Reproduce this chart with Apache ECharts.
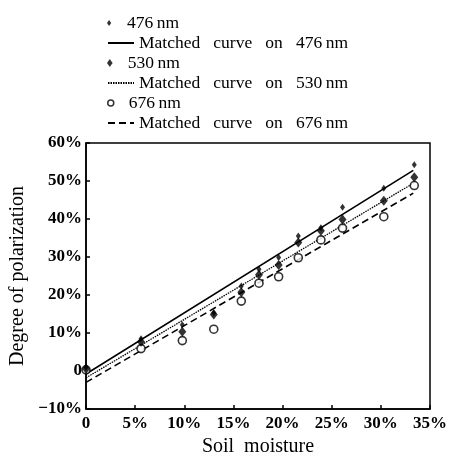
<!DOCTYPE html>
<html>
<head>
<meta charset="utf-8">
<script src="https://cdn.jsdelivr.net/npm/echarts@6/dist/echarts.min.js"></script>
<style>html,body{margin:0;padding:0;background:#fff}#c{width:454px;height:452px}</style>
</head>
<body>
<div id="c"></div>
<script>
var moisture = [0, 5.6, 9.8, 13.0, 15.8, 17.6, 19.6, 21.6, 23.9, 26.1, 30.3, 33.4];
var pol476 = [1.0, 8.5, 12.2, 15.3, 22.4, 26.8, 29.9, 35.5, 37.7, 43.1, 48.1, 54.3];
var pol530 = [0.6, 7.7, 10.3, 14.9, 20.7, 25.3, 27.9, 33.8, 36.9, 39.9, 44.8, 51.0];
var pol676 = [0.3, 5.9, 8.0, 11.0, 18.4, 23.1, 24.8, 29.8, 34.5, 37.6, 40.6, 48.8];
var fitX = [0, 33.3];
var fit476 = [-0.8, 52.8];
var fit530 = [-1.8, 49.4];
var fit676 = [-3.0, 46.8];
var legendNames = ['476\u2009nm', 'Matched   curve   on   476\u2009nm', '530\u2009nm',
  'Matched   curve   on   530\u2009nm', '676\u2009nm', 'Matched   curve   on   676\u2009nm'];

function pts(xs, ys) { return xs.map(function (x, i) { return [x, ys[i]]; }); }
var FONT = '"Liberation Serif", "Times New Roman", serif';
var DIAMOND = 'path://M0,-1L0.7,0L0,1L-0.7,0Z';

var legendIcons = [
  { icon: DIAMOND, h: 6 },
  { h: 8, hideSymbol: true },
  { icon: DIAMOND, h: 8 },
  { h: 8, hideSymbol: true },
  { icon: 'circle', h: 6 },
  { h: 8, hideSymbol: true }
];
var legends = legendNames.map(function (name, i) {
  var li = legendIcons[i];
  var item = { name: name };
  if (li.icon) item.icon = li.icon;
  if (li.hideSymbol) item.itemStyle = { opacity: 0 };
  if (li.icon === 'circle') item.itemStyle = { color: '#fff', borderColor: '#000', borderWidth: 1.5 };
  return {
    orient: 'vertical', left: 102, top: 8 + i * 20,
    padding: 5, itemWidth: 26, itemHeight: li.h, itemGap: 5,
    selectedMode: false,
    data: [item],
    textStyle: { fontFamily: FONT, fontSize: 17.5, color: '#000', lineHeight: 20, height: 20 }
  };
});

var chart = echarts.init(document.getElementById('c'));
chart.setOption({
  animation: false,
  backgroundColor: '#fff',
  textStyle: { fontFamily: FONT, color: '#000' },
  legend: legends,
  grid: {
    left: 86, right: 24, top: 143, bottom: 43, outerBoundsMode: 'none',
    show: true, borderColor: '#000', borderWidth: 1.5, backgroundColor: 'transparent'
  },
  xAxis: {
    type: 'value', min: 0, max: 35, interval: 5,
    name: 'Soil  moisture', nameLocation: 'middle', nameGap: 22,
    nameTextStyle: { fontFamily: FONT, fontSize: 20, color: '#000' },
    axisLine: { onZero: false, lineStyle: { color: '#000', width: 1.5 } },
    axisTick: { inside: true, length: 4, lineStyle: { color: '#000', width: 1.5 } },
    axisLabel: { fontFamily: FONT, fontSize: 17, fontWeight: 'bold', color: '#000', margin: 6,
      formatter: function (v) { return v === 0 ? '0' : v + '%'; } },
    splitLine: { show: false }
  },
  yAxis: {
    type: 'value', min: -10, max: 60, interval: 10,
    name: 'Degree of polarization', nameLocation: 'middle', nameGap: 57,
    nameTextStyle: { fontFamily: FONT, fontSize: 20, color: '#000' },
    axisLine: { onZero: false, lineStyle: { color: '#000', width: 1.5 } },
    axisTick: { inside: true, length: 4, lineStyle: { color: '#000', width: 1.5 } },
    axisLabel: { fontFamily: FONT, fontSize: 17, fontWeight: 'bold', color: '#000', margin: 4,
      formatter: function (v) { return v === 0 ? '0' : (v < 0 ? '\u2212' + Math.abs(v) + '%' : v + '%'); } },
    splitLine: { show: false }
  },
  series: [
    { name: legendNames[0], type: 'scatter', symbol: 'diamond', symbolSize: [5, 7],
      itemStyle: { color: '#000' }, data: pts(moisture, pol476), z: 6 },
    { name: legendNames[1], type: 'line', symbol: 'none', data: pts(fitX, fit476),
      lineStyle: { color: '#000', width: 1.6, type: 'solid' }, itemStyle: { color: '#000' } },
    { name: legendNames[2], type: 'scatter', symbol: 'diamond', symbolSize: [8, 10],
      itemStyle: { color: '#000' }, data: pts(moisture, pol530), z: 6 },
    { name: legendNames[3], type: 'line', symbol: 'none', data: pts(fitX, fit530),
      lineStyle: { color: '#000', width: 1.3, type: [1.5, 1] }, itemStyle: { color: '#000' } },
    { name: legendNames[4], type: 'scatter', symbol: 'circle', symbolSize: 8,
      itemStyle: { color: '#fff', borderColor: '#000', borderWidth: 1.6 }, data: pts(moisture, pol676), z: 4 },
    { name: legendNames[5], type: 'line', symbol: 'none', data: pts(fitX, fit676),
      lineStyle: { color: '#000', width: 1.6, type: [7, 4] }, itemStyle: { color: '#000' } }
  ]
});
</script>
</body>
</html>
